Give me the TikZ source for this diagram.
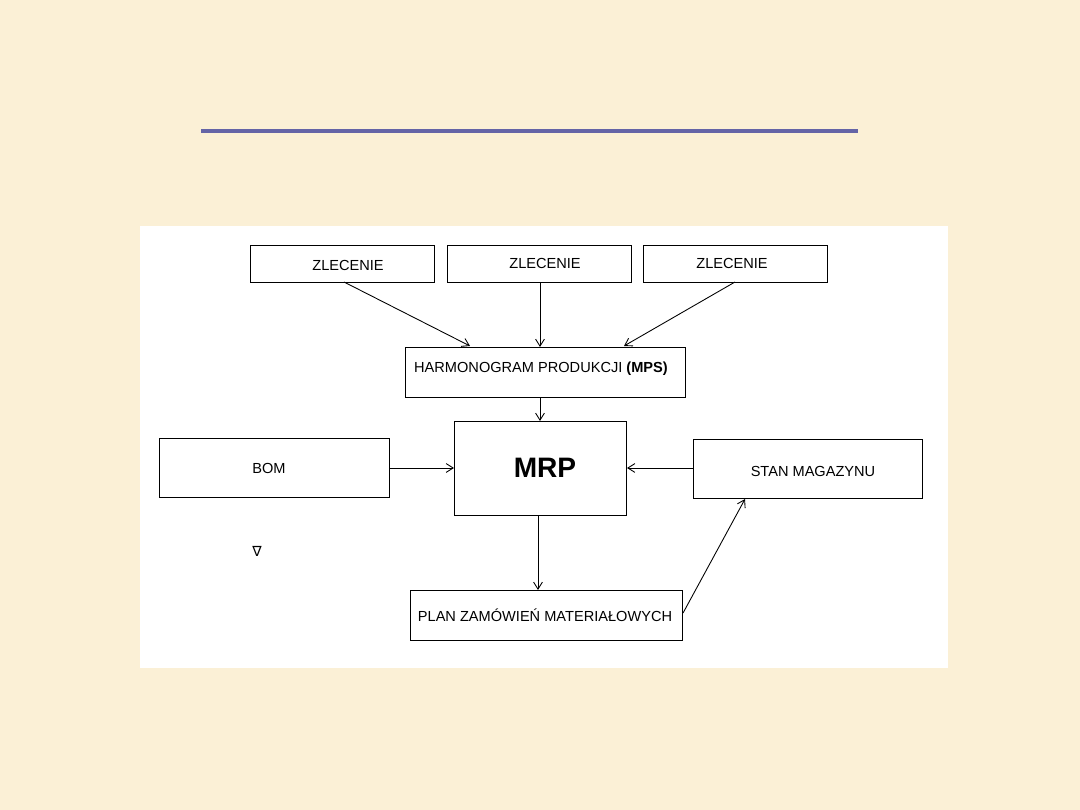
\documentclass[tikz,border=0pt]{standalone}
\usepackage{fontspec}
\setmainfont{Liberation Sans}
\newfontfamily\symfont{DejaVu Sans}
\usetikzlibrary{arrows.meta}
\definecolor{bgcream}{HTML}{FBF0D6}
\definecolor{rulecol}{HTML}{6464A6}
\tikzset{
  box/.style={draw=black, line width=0.6pt, fill=white, inner sep=0pt, anchor=north west},
  lbl/.style={font=\fontsize{8.3pt}{9pt}\selectfont, inner sep=0pt},
  conn/.style={draw=black, line width=0.5pt, -{Straight Barb[length=4pt,width=5pt]}},
}
\begin{document}
\begin{tikzpicture}[x=0.02cm, y=-0.02cm]
\fill[bgcream] (0,0) rectangle (1080,810);
\useasboundingbox (0,0) rectangle (1080,810);
\draw[rulecol, line width=2pt] (201,131) -- (858,131);
\fill[white] (140,226) rectangle (948,668);
% boxes
\node[box, minimum width=184*0.02cm, minimum height=37*0.02cm] (z1) at (250,245) {};
\node[box, minimum width=184*0.02cm, minimum height=37*0.02cm] (z2) at (447,245) {};
\node[box, minimum width=184*0.02cm, minimum height=37*0.02cm] (z3) at (643,245) {};
\node[box, minimum width=280*0.02cm, minimum height=50*0.02cm] (h) at (405,347) {};
\node[box, minimum width=172*0.02cm, minimum height=94*0.02cm] (mrp) at (454,421) {};
\node[box, minimum width=230*0.02cm, minimum height=59*0.02cm] (bom) at (159,438) {};
\node[box, minimum width=229*0.02cm, minimum height=59*0.02cm] (stan) at (693,439) {};
\node[box, minimum width=272*0.02cm, minimum height=50*0.02cm] (plan) at (410,590) {};
% labels
\node[lbl] (tz1) at (348,265) {ZLECENIE};
\node[lbl] (tz2) at (545,263) {ZLECENIE};
\node[lbl] (tz3) at (732,263) {ZLECENIE};
\node[lbl] (th) at (541,369) {HARMONOGRAM PRODUKCJI \textbf{(MPS)}};
\node[inner sep=0pt, font=\fontsize{16pt}{18pt}\selectfont\bfseries] (tm) at (545,468) {MRP};
\node[lbl] (tb) at (269,468) {BOM};
\node[lbl] (ts) at (813,471) {STAN MAGAZYNU};
\node[lbl] (tp) at (545,615) {PLAN ZAMÓWIEŃ MATERIAŁOWYCH};
\node[inner sep=0pt, font=\symfont\fontsize{8pt}{9pt}\selectfont] (tri) at (257,551) {∇};
% connectors
\coordinate (a1) at (344,282);
\coordinate (b1) at (470,346);
\coordinate (a3) at (735,282);
\coordinate (b3) at (624,346);
\draw[conn] (a1) -- (b1);
\draw[conn] (z2.south -| 540,0) -- (h.north -| 540,0);
\draw[conn] (a3) -- (b3);
\draw[conn] (h.south -| 540,0) -- (mrp.north -| 540,0);
\draw[conn] (bom.east |- 0,468) -- (mrp.west |- 0,468);
\draw[conn] (stan.west |- 0,468) -- (mrp.east |- 0,468);
\draw[conn] (mrp.south -| 538,0) -- (plan.north -| 538,0);
\draw[conn] (plan.east |- 0,613) -- (stan.south -| 745,0);
\end{tikzpicture}
\end{document}
